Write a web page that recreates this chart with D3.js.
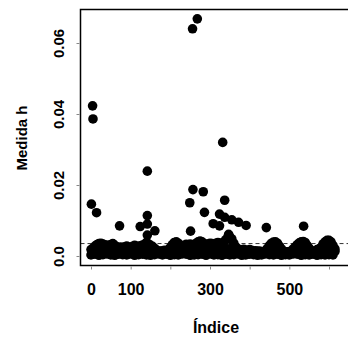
<!DOCTYPE html>
<html><head><meta charset="utf-8">
<script src="https://cdn.jsdelivr.net/npm/d3@7"></script>
<style>
html,body{margin:0;padding:0;background:#fff;}
svg{display:block;font-family:"Liberation Sans",Arial,Helvetica,sans-serif;}
</style></head>
<body>
<svg id="chart" width="348" height="343"></svg>
<script>
// ---- data ----
const xTickValues = [0, 100, 200, 300, 400, 500, 600];
const xTickLabels = ["0", "100", "", "300", "", "500", ""];
const yTickValues = [0, 0.02, 0.04, 0.06];
const yTickLabels = ["0.0", "0.02", "0.04", "0.06"];
const threshold = 0.0035;

// isolated points: index and h value
const outlierIdx = [4, 5, 1, 14, 72, 142, 142, 124, 142, 161, 142, 256, 268, 332, 257, 283, 249, 337, 286, 324, 337, 355, 372, 391, 308, 324, 251, 347, 442, 536];
const outlierH   = [0.0423, 0.0386, 0.0146, 0.0122, 0.0085, 0.0239, 0.0114, 0.0083, 0.0090, 0.0071, 0.0059, 0.0640, 0.0668, 0.0320, 0.0187, 0.0181, 0.0150, 0.0157, 0.0123, 0.0118, 0.0109, 0.0102, 0.0095, 0.0086, 0.0091, 0.0085, 0.0070, 0.0061, 0.0080, 0.0084];

// dense band, upper points (every 5th index from 0)
const bandHigh = [
 0.0018,0.0022,0.0028,0.0032,0.0035,0.0036,0.0034,0.0030,0.0031,0.0029,
 0.0032,0.0035,0.0030,0.0026,0.0024,0.0025,0.0023,0.0026,0.0028,0.0025,
 0.0024,0.0027,0.0030,0.0028,0.0026,0.0029,0.0031,0.0033,0.0038,0.0034,
 0.0030,0.0027,0.0022,0.0017,0.0014,0.0013,0.0015,0.0016,0.0014,0.0018,
 0.0024,0.0032,0.0038,0.0040,0.0036,0.0030,0.0026,0.0030,0.0033,0.0031,
 0.0034,0.0030,0.0032,0.0036,0.0040,0.0042,0.0040,0.0035,0.0032,0.0034,
 0.0036,0.0035,0.0033,0.0036,0.0038,0.0036,0.0034,0.0040,0.0046,0.0052,
 0.0054,0.0048,0.0036,0.0026,0.0020,0.0018,0.0016,0.0019,0.0017,0.0015,
 0.0018,0.0016,0.0014,0.0015,0.0013,0.0014,0.0012,0.0012,0.0016,0.0022,
 0.0030,0.0036,0.0039,0.0040,0.0036,0.0028,0.0020,0.0014,0.0012,0.0011,
 0.0012,0.0015,0.0020,0.0026,0.0032,0.0037,0.0040,0.0041,0.0038,0.0030,
 0.0022,0.0015,0.0012,0.0014,0.0018,0.0020,0.0024,0.0034,0.0040,0.0044,
 0.0044,0.0040,0.0030,0.0020
];
// dense band, middle points (every 10th index from 5)
const bandMid = [
 0.0015,0.0017,0.0014,0.0016,0.0018,0.0015,0.0013,0.0016,0.0017,0.0014,
 0.0016,0.0015,0.0018,0.0014,0.0012,0.0011,0.0013,0.0012,0.0014,0.0016,
 0.0018,0.0015,0.0016,0.0017,0.0015,0.0014,0.0016,0.0018,0.0017,0.0015,
 0.0016,0.0017,0.0018,0.0016,0.0020,0.0022,0.0016,0.0013,0.0012,0.0013,
 0.0011,0.0012,0.0011,0.0010,0.0013,0.0016,0.0018,0.0014,0.0011,0.0010,
 0.0012,0.0016,0.0018,0.0017,0.0014,0.0011,0.0010,0.0013,0.0016,0.0018,
 0.0016,0.0013
];
// dense band, lower points (every 10th index from 0)
const bandLow = [
 0.0003,0.0005,0.0002,0.0004,0.0006,0.0003,0.0002,0.0005,0.0004,0.0003,
 0.0006,0.0002,0.0004,0.0005,0.0003,0.0002,0.0004,0.0006,0.0003,0.0005,
 0.0002,0.0004,0.0003,0.0006,0.0005,0.0002,0.0003,0.0004,0.0005,0.0002,
 0.0006,0.0003,0.0004,0.0002,0.0005,0.0003,0.0004,0.0006,0.0002,0.0003,
 0.0005,0.0004,0.0002,0.0003,0.0006,0.0004,0.0003,0.0005,0.0002,0.0004,
 0.0003,0.0006,0.0005,0.0002,0.0004,0.0003,0.0005,0.0002,0.0004,0.0003,
 0.0004,0.0003
];

// ---- drawing ----
const svg = d3.select("#chart");
const box = {left: 80.5, top: 9.5, right: 349, bottom: 265.5};
const x = d3.scaleLinear().domain([0, 600]).range([91, 329]);
const y = d3.scaleLinear().domain([0, 0.06]).range([256, 43]);

const points = [];
bandLow.forEach((v, i) => points.push({i: i * 10, h: v}));
bandMid.forEach((v, i) => points.push({i: i * 10 + 5, h: v}));
bandHigh.forEach((v, i) => points.push({i: i * 5, h: v}));
outlierIdx.forEach((v, k) => points.push({i: v, h: outlierH[k]}));

// threshold dashed line
svg.append("line")
  .attr("x1", box.left).attr("x2", box.right)
  .attr("y1", y(threshold)).attr("y2", y(threshold))
  .attr("stroke", "#333").attr("stroke-width", 1)
  .attr("stroke-dasharray", "4,3");

svg.append("g").selectAll("circle").data(points).join("circle")
  .attr("cx", d => x(d.i)).attr("cy", d => y(d.h))
  .attr("r", 4.8).attr("fill", "#000");

// frame
svg.append("rect")
  .attr("x", box.left).attr("y", box.top)
  .attr("width", box.right - box.left).attr("height", box.bottom - box.top)
  .attr("fill", "none").attr("stroke", "#000").attr("stroke-width", 1.5);

// y axis
const yAxis = svg.append("g").attr("transform", `translate(${box.left},0)`)
  .call(d3.axisLeft(y).tickValues(yTickValues).tickSize(3)
        .tickFormat((d, i) => yTickLabels[i]));
yAxis.select(".domain").remove();
yAxis.selectAll(".tick line").attr("stroke", "#888").attr("transform", "translate(-1,0)");
yAxis.selectAll(".tick text")
  .attr("x", 0).attr("y", 0).attr("dy", 0)
  .attr("transform", "translate(-17,0) rotate(-90)")
  .attr("text-anchor", "middle")
  .attr("font-size", 15).attr("font-weight", "bold")
  .attr("font-family", "Liberation Sans, Arial, sans-serif")
  .attr("fill", "#000");

// x axis
const xAxis = svg.append("g").attr("transform", `translate(0,${box.bottom})`)
  .call(d3.axisBottom(x).tickValues(xTickValues).tickSize(3)
        .tickFormat((d, i) => xTickLabels[i]));
xAxis.select(".domain").remove();
xAxis.selectAll(".tick line").attr("stroke", "#888").attr("transform", "translate(0,1)");
xAxis.selectAll(".tick text")
  .attr("y", 29).attr("dy", 0)
  .attr("font-size", 16).attr("font-weight", "bold")
  .attr("font-family", "Liberation Sans, Arial, sans-serif")
  .attr("fill", "#000");

// axis titles
svg.append("text")
  .attr("transform", "translate(27,138) rotate(-90)")
  .attr("text-anchor", "middle")
  .attr("font-size", 15).attr("font-weight", "bold")
  .text("Medida h");
svg.append("text")
  .attr("x", 216).attr("y", 333)
  .attr("text-anchor", "middle")
  .attr("font-size", 16).attr("font-weight", "bold")
  .text("Índice");
</script>
</body></html>
